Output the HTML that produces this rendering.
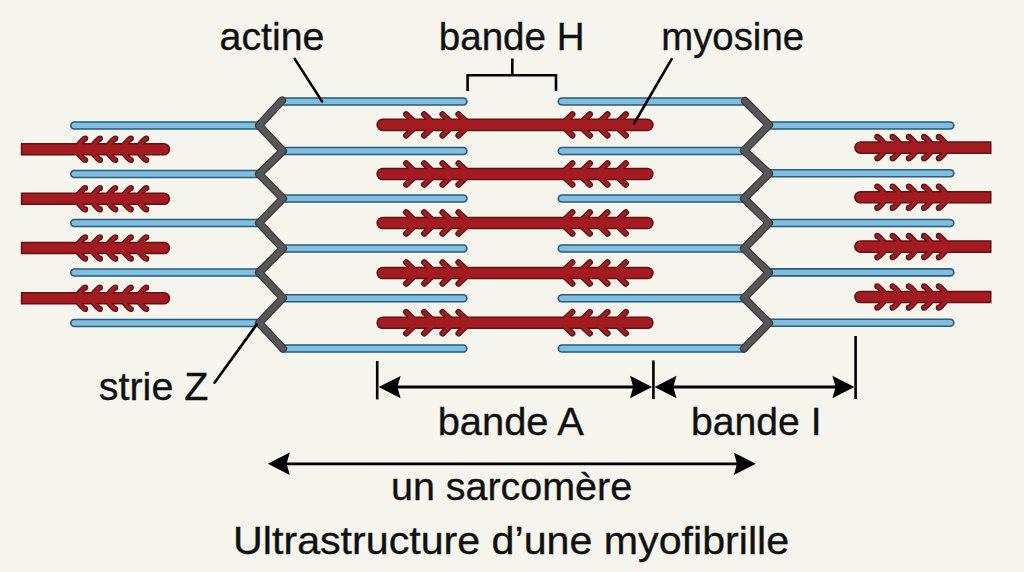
<!DOCTYPE html><html><head><meta charset="utf-8"><title>Ultrastructure d’une myofibrille</title><style>html,body{margin:0;padding:0;background:#f5f5ee;overflow:hidden}svg{display:block}</style></head><body><svg width="1024" height="572" viewBox="0 0 1024 572">
<style>.ao{stroke:#2a5a75;stroke-width:8.6;stroke-linecap:round;fill:none}.ai{stroke:#7ebee1;stroke-width:5.3999999999999995;stroke-linecap:round;fill:none}.ho{stroke:#601211;stroke-width:6.2;stroke-linecap:round;fill:none}.hi{stroke:#a41b22;stroke-width:3.5;stroke-linecap:round;fill:none}.zo{stroke:#3a3a3a;stroke-width:8.2;stroke-linecap:round;stroke-linejoin:round;fill:none}.zi{stroke:#575757;stroke-width:5.8;stroke-linecap:round;stroke-linejoin:round;fill:none}.k{stroke:#000;stroke-width:2.6;fill:none}text{font-family:"Liberation Sans",sans-serif;fill:#111111;stroke:#111111;stroke-width:0.35px}</style>
<rect width="1024" height="572" fill="#f5f5ee"/>
<line x1="74.3" y1="125.5" x2="259.0" y2="125.5" class="ao"/>
<line x1="74.3" y1="174" x2="259.0" y2="174" class="ao"/>
<line x1="74.3" y1="223" x2="259.0" y2="223" class="ao"/>
<line x1="74.3" y1="272.5" x2="259.0" y2="272.5" class="ao"/>
<line x1="74.3" y1="323" x2="259.0" y2="323" class="ao"/>
<line x1="283.0" y1="101.5" x2="463.4" y2="101.5" class="ao"/>
<line x1="561.8" y1="101.5" x2="744.0" y2="101.5" class="ao"/>
<line x1="283.0" y1="151" x2="463.4" y2="151" class="ao"/>
<line x1="561.8" y1="151" x2="744.0" y2="151" class="ao"/>
<line x1="283.0" y1="198.5" x2="463.4" y2="198.5" class="ao"/>
<line x1="561.8" y1="198.5" x2="744.0" y2="198.5" class="ao"/>
<line x1="283.0" y1="248.5" x2="463.4" y2="248.5" class="ao"/>
<line x1="561.8" y1="248.5" x2="744.0" y2="248.5" class="ao"/>
<line x1="283.0" y1="298.3" x2="463.4" y2="298.3" class="ao"/>
<line x1="561.8" y1="298.3" x2="744.0" y2="298.3" class="ao"/>
<line x1="283.0" y1="348.5" x2="463.4" y2="348.5" class="ao"/>
<line x1="561.8" y1="348.5" x2="744.0" y2="348.5" class="ao"/>
<line x1="771.0" y1="125.5" x2="950.3" y2="125.5" class="ao"/>
<line x1="771.0" y1="173.2" x2="950.3" y2="173.2" class="ao"/>
<line x1="771.0" y1="223" x2="950.3" y2="223" class="ao"/>
<line x1="771.0" y1="272.4" x2="950.3" y2="272.4" class="ao"/>
<line x1="771.0" y1="322.8" x2="950.3" y2="322.8" class="ao"/>
<line x1="74.3" y1="125.5" x2="259.0" y2="125.5" class="ai"/>
<line x1="74.3" y1="174" x2="259.0" y2="174" class="ai"/>
<line x1="74.3" y1="223" x2="259.0" y2="223" class="ai"/>
<line x1="74.3" y1="272.5" x2="259.0" y2="272.5" class="ai"/>
<line x1="74.3" y1="323" x2="259.0" y2="323" class="ai"/>
<line x1="283.0" y1="101.5" x2="463.4" y2="101.5" class="ai"/>
<line x1="561.8" y1="101.5" x2="744.0" y2="101.5" class="ai"/>
<line x1="283.0" y1="151" x2="463.4" y2="151" class="ai"/>
<line x1="561.8" y1="151" x2="744.0" y2="151" class="ai"/>
<line x1="283.0" y1="198.5" x2="463.4" y2="198.5" class="ai"/>
<line x1="561.8" y1="198.5" x2="744.0" y2="198.5" class="ai"/>
<line x1="283.0" y1="248.5" x2="463.4" y2="248.5" class="ai"/>
<line x1="561.8" y1="248.5" x2="744.0" y2="248.5" class="ai"/>
<line x1="283.0" y1="298.3" x2="463.4" y2="298.3" class="ai"/>
<line x1="561.8" y1="298.3" x2="744.0" y2="298.3" class="ai"/>
<line x1="283.0" y1="348.5" x2="463.4" y2="348.5" class="ai"/>
<line x1="561.8" y1="348.5" x2="744.0" y2="348.5" class="ai"/>
<line x1="771.0" y1="125.5" x2="950.3" y2="125.5" class="ai"/>
<line x1="771.0" y1="173.2" x2="950.3" y2="173.2" class="ai"/>
<line x1="771.0" y1="223" x2="950.3" y2="223" class="ai"/>
<line x1="771.0" y1="272.4" x2="950.3" y2="272.4" class="ai"/>
<line x1="771.0" y1="322.8" x2="950.3" y2="322.8" class="ai"/>
<path d="M20.80,143.00 L163.90,143.00 A6.30,6.30 0 0 1 163.90,155.60 L20.80,155.60 L20.80,143.00 Z" fill="#601211"/>
<path d="M77.10,147.10 Q83.34,138.60 85.10,138.60" class="ho"/>
<path d="M77.10,151.50 Q83.34,160.00 85.10,160.00" class="ho"/>
<path d="M91.90,147.10 Q98.14,138.60 99.90,138.60" class="ho"/>
<path d="M91.90,151.50 Q98.14,160.00 99.90,160.00" class="ho"/>
<path d="M107.20,147.10 Q113.44,138.60 115.20,138.60" class="ho"/>
<path d="M107.20,151.50 Q113.44,160.00 115.20,160.00" class="ho"/>
<path d="M122.80,147.10 Q129.04,138.60 130.80,138.60" class="ho"/>
<path d="M122.80,151.50 Q129.04,160.00 130.80,160.00" class="ho"/>
<path d="M138.20,147.10 Q144.44,138.60 146.20,138.60" class="ho"/>
<path d="M138.20,151.50 Q144.44,160.00 146.20,160.00" class="ho"/>
<path d="M20.80,192.40 L163.90,192.40 A6.30,6.30 0 0 1 163.90,205.00 L20.80,205.00 L20.80,192.40 Z" fill="#601211"/>
<path d="M77.10,196.50 Q83.34,188.00 85.10,188.00" class="ho"/>
<path d="M77.10,200.90 Q83.34,209.40 85.10,209.40" class="ho"/>
<path d="M91.90,196.50 Q98.14,188.00 99.90,188.00" class="ho"/>
<path d="M91.90,200.90 Q98.14,209.40 99.90,209.40" class="ho"/>
<path d="M107.20,196.50 Q113.44,188.00 115.20,188.00" class="ho"/>
<path d="M107.20,200.90 Q113.44,209.40 115.20,209.40" class="ho"/>
<path d="M122.80,196.50 Q129.04,188.00 130.80,188.00" class="ho"/>
<path d="M122.80,200.90 Q129.04,209.40 130.80,209.40" class="ho"/>
<path d="M138.20,196.50 Q144.44,188.00 146.20,188.00" class="ho"/>
<path d="M138.20,200.90 Q144.44,209.40 146.20,209.40" class="ho"/>
<path d="M20.80,241.70 L163.90,241.70 A6.30,6.30 0 0 1 163.90,254.30 L20.80,254.30 L20.80,241.70 Z" fill="#601211"/>
<path d="M77.10,245.80 Q83.34,237.30 85.10,237.30" class="ho"/>
<path d="M77.10,250.20 Q83.34,258.70 85.10,258.70" class="ho"/>
<path d="M91.90,245.80 Q98.14,237.30 99.90,237.30" class="ho"/>
<path d="M91.90,250.20 Q98.14,258.70 99.90,258.70" class="ho"/>
<path d="M107.20,245.80 Q113.44,237.30 115.20,237.30" class="ho"/>
<path d="M107.20,250.20 Q113.44,258.70 115.20,258.70" class="ho"/>
<path d="M122.80,245.80 Q129.04,237.30 130.80,237.30" class="ho"/>
<path d="M122.80,250.20 Q129.04,258.70 130.80,258.70" class="ho"/>
<path d="M138.20,245.80 Q144.44,237.30 146.20,237.30" class="ho"/>
<path d="M138.20,250.20 Q144.44,258.70 146.20,258.70" class="ho"/>
<path d="M20.80,292.00 L163.90,292.00 A6.30,6.30 0 0 1 163.90,304.60 L20.80,304.60 L20.80,292.00 Z" fill="#601211"/>
<path d="M77.10,296.10 Q83.34,287.60 85.10,287.60" class="ho"/>
<path d="M77.10,300.50 Q83.34,309.00 85.10,309.00" class="ho"/>
<path d="M91.90,296.10 Q98.14,287.60 99.90,287.60" class="ho"/>
<path d="M91.90,300.50 Q98.14,309.00 99.90,309.00" class="ho"/>
<path d="M107.20,296.10 Q113.44,287.60 115.20,287.60" class="ho"/>
<path d="M107.20,300.50 Q113.44,309.00 115.20,309.00" class="ho"/>
<path d="M122.80,296.10 Q129.04,287.60 130.80,287.60" class="ho"/>
<path d="M122.80,300.50 Q129.04,309.00 130.80,309.00" class="ho"/>
<path d="M138.20,296.10 Q144.44,287.60 146.20,287.60" class="ho"/>
<path d="M138.20,300.50 Q144.44,309.00 146.20,309.00" class="ho"/>
<path d="M382.70,118.60 L647.40,118.60 A6.30,6.30 0 0 1 647.40,131.20 L382.70,131.20 A6.30,6.30 0 0 1 382.70,118.60 Z" fill="#601211"/>
<path d="M414.90,122.70 Q406.10,114.20 406.10,114.20" class="ho"/>
<path d="M414.90,127.10 Q406.10,135.60 406.10,135.60" class="ho"/>
<path d="M432.90,122.70 Q424.10,114.20 424.10,114.20" class="ho"/>
<path d="M432.90,127.10 Q424.10,135.60 424.10,135.60" class="ho"/>
<path d="M451.30,122.70 Q442.50,114.20 442.50,114.20" class="ho"/>
<path d="M451.30,127.10 Q442.50,135.60 442.50,135.60" class="ho"/>
<path d="M467.30,122.70 Q458.50,114.20 458.50,114.20" class="ho"/>
<path d="M467.30,127.10 Q458.50,135.60 458.50,135.60" class="ho"/>
<path d="M563.60,122.70 Q572.40,114.20 572.40,114.20" class="ho"/>
<path d="M563.60,127.10 Q572.40,135.60 572.40,135.60" class="ho"/>
<path d="M581.10,122.70 Q589.90,114.20 589.90,114.20" class="ho"/>
<path d="M581.10,127.10 Q589.90,135.60 589.90,135.60" class="ho"/>
<path d="M598.70,122.70 Q607.50,114.20 607.50,114.20" class="ho"/>
<path d="M598.70,127.10 Q607.50,135.60 607.50,135.60" class="ho"/>
<path d="M617.10,122.70 Q625.90,114.20 625.90,114.20" class="ho"/>
<path d="M617.10,127.10 Q625.90,135.60 625.90,135.60" class="ho"/>
<path d="M382.70,167.70 L647.40,167.70 A6.30,6.30 0 0 1 647.40,180.30 L382.70,180.30 A6.30,6.30 0 0 1 382.70,167.70 Z" fill="#601211"/>
<path d="M414.90,171.80 Q406.10,163.30 406.10,163.30" class="ho"/>
<path d="M414.90,176.20 Q406.10,184.70 406.10,184.70" class="ho"/>
<path d="M432.90,171.80 Q424.10,163.30 424.10,163.30" class="ho"/>
<path d="M432.90,176.20 Q424.10,184.70 424.10,184.70" class="ho"/>
<path d="M451.30,171.80 Q442.50,163.30 442.50,163.30" class="ho"/>
<path d="M451.30,176.20 Q442.50,184.70 442.50,184.70" class="ho"/>
<path d="M467.30,171.80 Q458.50,163.30 458.50,163.30" class="ho"/>
<path d="M467.30,176.20 Q458.50,184.70 458.50,184.70" class="ho"/>
<path d="M563.60,171.80 Q572.40,163.30 572.40,163.30" class="ho"/>
<path d="M563.60,176.20 Q572.40,184.70 572.40,184.70" class="ho"/>
<path d="M581.10,171.80 Q589.90,163.30 589.90,163.30" class="ho"/>
<path d="M581.10,176.20 Q589.90,184.70 589.90,184.70" class="ho"/>
<path d="M598.70,171.80 Q607.50,163.30 607.50,163.30" class="ho"/>
<path d="M598.70,176.20 Q607.50,184.70 607.50,184.70" class="ho"/>
<path d="M617.10,171.80 Q625.90,163.30 625.90,163.30" class="ho"/>
<path d="M617.10,176.20 Q625.90,184.70 625.90,184.70" class="ho"/>
<path d="M382.70,216.70 L647.40,216.70 A6.30,6.30 0 0 1 647.40,229.30 L382.70,229.30 A6.30,6.30 0 0 1 382.70,216.70 Z" fill="#601211"/>
<path d="M414.90,220.80 Q406.10,212.30 406.10,212.30" class="ho"/>
<path d="M414.90,225.20 Q406.10,233.70 406.10,233.70" class="ho"/>
<path d="M432.90,220.80 Q424.10,212.30 424.10,212.30" class="ho"/>
<path d="M432.90,225.20 Q424.10,233.70 424.10,233.70" class="ho"/>
<path d="M451.30,220.80 Q442.50,212.30 442.50,212.30" class="ho"/>
<path d="M451.30,225.20 Q442.50,233.70 442.50,233.70" class="ho"/>
<path d="M467.30,220.80 Q458.50,212.30 458.50,212.30" class="ho"/>
<path d="M467.30,225.20 Q458.50,233.70 458.50,233.70" class="ho"/>
<path d="M563.60,220.80 Q572.40,212.30 572.40,212.30" class="ho"/>
<path d="M563.60,225.20 Q572.40,233.70 572.40,233.70" class="ho"/>
<path d="M581.10,220.80 Q589.90,212.30 589.90,212.30" class="ho"/>
<path d="M581.10,225.20 Q589.90,233.70 589.90,233.70" class="ho"/>
<path d="M598.70,220.80 Q607.50,212.30 607.50,212.30" class="ho"/>
<path d="M598.70,225.20 Q607.50,233.70 607.50,233.70" class="ho"/>
<path d="M617.10,220.80 Q625.90,212.30 625.90,212.30" class="ho"/>
<path d="M617.10,225.20 Q625.90,233.70 625.90,233.70" class="ho"/>
<path d="M382.70,266.70 L647.40,266.70 A6.30,6.30 0 0 1 647.40,279.30 L382.70,279.30 A6.30,6.30 0 0 1 382.70,266.70 Z" fill="#601211"/>
<path d="M414.90,270.80 Q406.10,262.30 406.10,262.30" class="ho"/>
<path d="M414.90,275.20 Q406.10,283.70 406.10,283.70" class="ho"/>
<path d="M432.90,270.80 Q424.10,262.30 424.10,262.30" class="ho"/>
<path d="M432.90,275.20 Q424.10,283.70 424.10,283.70" class="ho"/>
<path d="M451.30,270.80 Q442.50,262.30 442.50,262.30" class="ho"/>
<path d="M451.30,275.20 Q442.50,283.70 442.50,283.70" class="ho"/>
<path d="M467.30,270.80 Q458.50,262.30 458.50,262.30" class="ho"/>
<path d="M467.30,275.20 Q458.50,283.70 458.50,283.70" class="ho"/>
<path d="M563.60,270.80 Q572.40,262.30 572.40,262.30" class="ho"/>
<path d="M563.60,275.20 Q572.40,283.70 572.40,283.70" class="ho"/>
<path d="M581.10,270.80 Q589.90,262.30 589.90,262.30" class="ho"/>
<path d="M581.10,275.20 Q589.90,283.70 589.90,283.70" class="ho"/>
<path d="M598.70,270.80 Q607.50,262.30 607.50,262.30" class="ho"/>
<path d="M598.70,275.20 Q607.50,283.70 607.50,283.70" class="ho"/>
<path d="M617.10,270.80 Q625.90,262.30 625.90,262.30" class="ho"/>
<path d="M617.10,275.20 Q625.90,283.70 625.90,283.70" class="ho"/>
<path d="M382.70,316.40 L647.40,316.40 A6.30,6.30 0 0 1 647.40,329.00 L382.70,329.00 A6.30,6.30 0 0 1 382.70,316.40 Z" fill="#601211"/>
<path d="M414.90,320.50 Q406.10,312.00 406.10,312.00" class="ho"/>
<path d="M414.90,324.90 Q406.10,333.40 406.10,333.40" class="ho"/>
<path d="M432.90,320.50 Q424.10,312.00 424.10,312.00" class="ho"/>
<path d="M432.90,324.90 Q424.10,333.40 424.10,333.40" class="ho"/>
<path d="M451.30,320.50 Q442.50,312.00 442.50,312.00" class="ho"/>
<path d="M451.30,324.90 Q442.50,333.40 442.50,333.40" class="ho"/>
<path d="M467.30,320.50 Q458.50,312.00 458.50,312.00" class="ho"/>
<path d="M467.30,324.90 Q458.50,333.40 458.50,333.40" class="ho"/>
<path d="M563.60,320.50 Q572.40,312.00 572.40,312.00" class="ho"/>
<path d="M563.60,324.90 Q572.40,333.40 572.40,333.40" class="ho"/>
<path d="M581.10,320.50 Q589.90,312.00 589.90,312.00" class="ho"/>
<path d="M581.10,324.90 Q589.90,333.40 589.90,333.40" class="ho"/>
<path d="M598.70,320.50 Q607.50,312.00 607.50,312.00" class="ho"/>
<path d="M598.70,324.90 Q607.50,333.40 607.50,333.40" class="ho"/>
<path d="M617.10,320.50 Q625.90,312.00 625.90,312.00" class="ho"/>
<path d="M617.10,324.90 Q625.90,333.40 625.90,333.40" class="ho"/>
<path d="M860.40,141.30 L991.50,141.30 L991.50,153.90 L860.40,153.90 A6.30,6.30 0 0 1 860.40,141.30 Z" fill="#601211"/>
<path d="M885.30,145.40 Q879.06,136.90 877.30,136.90" class="ho"/>
<path d="M885.30,149.80 Q879.06,158.30 877.30,158.30" class="ho"/>
<path d="M900.60,145.40 Q894.36,136.90 892.60,136.90" class="ho"/>
<path d="M900.60,149.80 Q894.36,158.30 892.60,158.30" class="ho"/>
<path d="M916.80,145.40 Q910.56,136.90 908.80,136.90" class="ho"/>
<path d="M916.80,149.80 Q910.56,158.30 908.80,158.30" class="ho"/>
<path d="M932.10,145.40 Q925.86,136.90 924.10,136.90" class="ho"/>
<path d="M932.10,149.80 Q925.86,158.30 924.10,158.30" class="ho"/>
<path d="M946.80,145.40 Q940.56,136.90 938.80,136.90" class="ho"/>
<path d="M946.80,149.80 Q940.56,158.30 938.80,158.30" class="ho"/>
<path d="M860.40,190.90 L991.50,190.90 L991.50,203.50 L860.40,203.50 A6.30,6.30 0 0 1 860.40,190.90 Z" fill="#601211"/>
<path d="M885.30,195.00 Q879.06,186.50 877.30,186.50" class="ho"/>
<path d="M885.30,199.40 Q879.06,207.90 877.30,207.90" class="ho"/>
<path d="M900.60,195.00 Q894.36,186.50 892.60,186.50" class="ho"/>
<path d="M900.60,199.40 Q894.36,207.90 892.60,207.90" class="ho"/>
<path d="M916.80,195.00 Q910.56,186.50 908.80,186.50" class="ho"/>
<path d="M916.80,199.40 Q910.56,207.90 908.80,207.90" class="ho"/>
<path d="M932.10,195.00 Q925.86,186.50 924.10,186.50" class="ho"/>
<path d="M932.10,199.40 Q925.86,207.90 924.10,207.90" class="ho"/>
<path d="M946.80,195.00 Q940.56,186.50 938.80,186.50" class="ho"/>
<path d="M946.80,199.40 Q940.56,207.90 938.80,207.90" class="ho"/>
<path d="M860.40,240.30 L991.50,240.30 L991.50,252.90 L860.40,252.90 A6.30,6.30 0 0 1 860.40,240.30 Z" fill="#601211"/>
<path d="M885.30,244.40 Q879.06,235.90 877.30,235.90" class="ho"/>
<path d="M885.30,248.80 Q879.06,257.30 877.30,257.30" class="ho"/>
<path d="M900.60,244.40 Q894.36,235.90 892.60,235.90" class="ho"/>
<path d="M900.60,248.80 Q894.36,257.30 892.60,257.30" class="ho"/>
<path d="M916.80,244.40 Q910.56,235.90 908.80,235.90" class="ho"/>
<path d="M916.80,248.80 Q910.56,257.30 908.80,257.30" class="ho"/>
<path d="M932.10,244.40 Q925.86,235.90 924.10,235.90" class="ho"/>
<path d="M932.10,248.80 Q925.86,257.30 924.10,257.30" class="ho"/>
<path d="M946.80,244.40 Q940.56,235.90 938.80,235.90" class="ho"/>
<path d="M946.80,248.80 Q940.56,257.30 938.80,257.30" class="ho"/>
<path d="M860.40,290.70 L991.50,290.70 L991.50,303.30 L860.40,303.30 A6.30,6.30 0 0 1 860.40,290.70 Z" fill="#601211"/>
<path d="M885.30,294.80 Q879.06,286.30 877.30,286.30" class="ho"/>
<path d="M885.30,299.20 Q879.06,307.70 877.30,307.70" class="ho"/>
<path d="M900.60,294.80 Q894.36,286.30 892.60,286.30" class="ho"/>
<path d="M900.60,299.20 Q894.36,307.70 892.60,307.70" class="ho"/>
<path d="M916.80,294.80 Q910.56,286.30 908.80,286.30" class="ho"/>
<path d="M916.80,299.20 Q910.56,307.70 908.80,307.70" class="ho"/>
<path d="M932.10,294.80 Q925.86,286.30 924.10,286.30" class="ho"/>
<path d="M932.10,299.20 Q925.86,307.70 924.10,307.70" class="ho"/>
<path d="M946.80,294.80 Q940.56,286.30 938.80,286.30" class="ho"/>
<path d="M946.80,299.20 Q940.56,307.70 938.80,307.70" class="ho"/>
<path d="M22.30,144.50 L163.90,144.50 A4.80,4.80 0 0 1 163.90,154.10 L22.30,154.10 L22.30,144.50 Z" fill="#a41b22"/>
<path d="M77.10,147.10 Q83.34,138.60 85.10,138.60" class="hi"/>
<path d="M77.10,151.50 Q83.34,160.00 85.10,160.00" class="hi"/>
<path d="M91.90,147.10 Q98.14,138.60 99.90,138.60" class="hi"/>
<path d="M91.90,151.50 Q98.14,160.00 99.90,160.00" class="hi"/>
<path d="M107.20,147.10 Q113.44,138.60 115.20,138.60" class="hi"/>
<path d="M107.20,151.50 Q113.44,160.00 115.20,160.00" class="hi"/>
<path d="M122.80,147.10 Q129.04,138.60 130.80,138.60" class="hi"/>
<path d="M122.80,151.50 Q129.04,160.00 130.80,160.00" class="hi"/>
<path d="M138.20,147.10 Q144.44,138.60 146.20,138.60" class="hi"/>
<path d="M138.20,151.50 Q144.44,160.00 146.20,160.00" class="hi"/>
<path d="M22.30,193.90 L163.90,193.90 A4.80,4.80 0 0 1 163.90,203.50 L22.30,203.50 L22.30,193.90 Z" fill="#a41b22"/>
<path d="M77.10,196.50 Q83.34,188.00 85.10,188.00" class="hi"/>
<path d="M77.10,200.90 Q83.34,209.40 85.10,209.40" class="hi"/>
<path d="M91.90,196.50 Q98.14,188.00 99.90,188.00" class="hi"/>
<path d="M91.90,200.90 Q98.14,209.40 99.90,209.40" class="hi"/>
<path d="M107.20,196.50 Q113.44,188.00 115.20,188.00" class="hi"/>
<path d="M107.20,200.90 Q113.44,209.40 115.20,209.40" class="hi"/>
<path d="M122.80,196.50 Q129.04,188.00 130.80,188.00" class="hi"/>
<path d="M122.80,200.90 Q129.04,209.40 130.80,209.40" class="hi"/>
<path d="M138.20,196.50 Q144.44,188.00 146.20,188.00" class="hi"/>
<path d="M138.20,200.90 Q144.44,209.40 146.20,209.40" class="hi"/>
<path d="M22.30,243.20 L163.90,243.20 A4.80,4.80 0 0 1 163.90,252.80 L22.30,252.80 L22.30,243.20 Z" fill="#a41b22"/>
<path d="M77.10,245.80 Q83.34,237.30 85.10,237.30" class="hi"/>
<path d="M77.10,250.20 Q83.34,258.70 85.10,258.70" class="hi"/>
<path d="M91.90,245.80 Q98.14,237.30 99.90,237.30" class="hi"/>
<path d="M91.90,250.20 Q98.14,258.70 99.90,258.70" class="hi"/>
<path d="M107.20,245.80 Q113.44,237.30 115.20,237.30" class="hi"/>
<path d="M107.20,250.20 Q113.44,258.70 115.20,258.70" class="hi"/>
<path d="M122.80,245.80 Q129.04,237.30 130.80,237.30" class="hi"/>
<path d="M122.80,250.20 Q129.04,258.70 130.80,258.70" class="hi"/>
<path d="M138.20,245.80 Q144.44,237.30 146.20,237.30" class="hi"/>
<path d="M138.20,250.20 Q144.44,258.70 146.20,258.70" class="hi"/>
<path d="M22.30,293.50 L163.90,293.50 A4.80,4.80 0 0 1 163.90,303.10 L22.30,303.10 L22.30,293.50 Z" fill="#a41b22"/>
<path d="M77.10,296.10 Q83.34,287.60 85.10,287.60" class="hi"/>
<path d="M77.10,300.50 Q83.34,309.00 85.10,309.00" class="hi"/>
<path d="M91.90,296.10 Q98.14,287.60 99.90,287.60" class="hi"/>
<path d="M91.90,300.50 Q98.14,309.00 99.90,309.00" class="hi"/>
<path d="M107.20,296.10 Q113.44,287.60 115.20,287.60" class="hi"/>
<path d="M107.20,300.50 Q113.44,309.00 115.20,309.00" class="hi"/>
<path d="M122.80,296.10 Q129.04,287.60 130.80,287.60" class="hi"/>
<path d="M122.80,300.50 Q129.04,309.00 130.80,309.00" class="hi"/>
<path d="M138.20,296.10 Q144.44,287.60 146.20,287.60" class="hi"/>
<path d="M138.20,300.50 Q144.44,309.00 146.20,309.00" class="hi"/>
<path d="M382.70,120.10 L647.40,120.10 A4.80,4.80 0 0 1 647.40,129.70 L382.70,129.70 A4.80,4.80 0 0 1 382.70,120.10 Z" fill="#a41b22"/>
<path d="M414.90,122.70 Q406.10,114.20 406.10,114.20" class="hi"/>
<path d="M414.90,127.10 Q406.10,135.60 406.10,135.60" class="hi"/>
<path d="M432.90,122.70 Q424.10,114.20 424.10,114.20" class="hi"/>
<path d="M432.90,127.10 Q424.10,135.60 424.10,135.60" class="hi"/>
<path d="M451.30,122.70 Q442.50,114.20 442.50,114.20" class="hi"/>
<path d="M451.30,127.10 Q442.50,135.60 442.50,135.60" class="hi"/>
<path d="M467.30,122.70 Q458.50,114.20 458.50,114.20" class="hi"/>
<path d="M467.30,127.10 Q458.50,135.60 458.50,135.60" class="hi"/>
<path d="M563.60,122.70 Q572.40,114.20 572.40,114.20" class="hi"/>
<path d="M563.60,127.10 Q572.40,135.60 572.40,135.60" class="hi"/>
<path d="M581.10,122.70 Q589.90,114.20 589.90,114.20" class="hi"/>
<path d="M581.10,127.10 Q589.90,135.60 589.90,135.60" class="hi"/>
<path d="M598.70,122.70 Q607.50,114.20 607.50,114.20" class="hi"/>
<path d="M598.70,127.10 Q607.50,135.60 607.50,135.60" class="hi"/>
<path d="M617.10,122.70 Q625.90,114.20 625.90,114.20" class="hi"/>
<path d="M617.10,127.10 Q625.90,135.60 625.90,135.60" class="hi"/>
<path d="M382.70,169.20 L647.40,169.20 A4.80,4.80 0 0 1 647.40,178.80 L382.70,178.80 A4.80,4.80 0 0 1 382.70,169.20 Z" fill="#a41b22"/>
<path d="M414.90,171.80 Q406.10,163.30 406.10,163.30" class="hi"/>
<path d="M414.90,176.20 Q406.10,184.70 406.10,184.70" class="hi"/>
<path d="M432.90,171.80 Q424.10,163.30 424.10,163.30" class="hi"/>
<path d="M432.90,176.20 Q424.10,184.70 424.10,184.70" class="hi"/>
<path d="M451.30,171.80 Q442.50,163.30 442.50,163.30" class="hi"/>
<path d="M451.30,176.20 Q442.50,184.70 442.50,184.70" class="hi"/>
<path d="M467.30,171.80 Q458.50,163.30 458.50,163.30" class="hi"/>
<path d="M467.30,176.20 Q458.50,184.70 458.50,184.70" class="hi"/>
<path d="M563.60,171.80 Q572.40,163.30 572.40,163.30" class="hi"/>
<path d="M563.60,176.20 Q572.40,184.70 572.40,184.70" class="hi"/>
<path d="M581.10,171.80 Q589.90,163.30 589.90,163.30" class="hi"/>
<path d="M581.10,176.20 Q589.90,184.70 589.90,184.70" class="hi"/>
<path d="M598.70,171.80 Q607.50,163.30 607.50,163.30" class="hi"/>
<path d="M598.70,176.20 Q607.50,184.70 607.50,184.70" class="hi"/>
<path d="M617.10,171.80 Q625.90,163.30 625.90,163.30" class="hi"/>
<path d="M617.10,176.20 Q625.90,184.70 625.90,184.70" class="hi"/>
<path d="M382.70,218.20 L647.40,218.20 A4.80,4.80 0 0 1 647.40,227.80 L382.70,227.80 A4.80,4.80 0 0 1 382.70,218.20 Z" fill="#a41b22"/>
<path d="M414.90,220.80 Q406.10,212.30 406.10,212.30" class="hi"/>
<path d="M414.90,225.20 Q406.10,233.70 406.10,233.70" class="hi"/>
<path d="M432.90,220.80 Q424.10,212.30 424.10,212.30" class="hi"/>
<path d="M432.90,225.20 Q424.10,233.70 424.10,233.70" class="hi"/>
<path d="M451.30,220.80 Q442.50,212.30 442.50,212.30" class="hi"/>
<path d="M451.30,225.20 Q442.50,233.70 442.50,233.70" class="hi"/>
<path d="M467.30,220.80 Q458.50,212.30 458.50,212.30" class="hi"/>
<path d="M467.30,225.20 Q458.50,233.70 458.50,233.70" class="hi"/>
<path d="M563.60,220.80 Q572.40,212.30 572.40,212.30" class="hi"/>
<path d="M563.60,225.20 Q572.40,233.70 572.40,233.70" class="hi"/>
<path d="M581.10,220.80 Q589.90,212.30 589.90,212.30" class="hi"/>
<path d="M581.10,225.20 Q589.90,233.70 589.90,233.70" class="hi"/>
<path d="M598.70,220.80 Q607.50,212.30 607.50,212.30" class="hi"/>
<path d="M598.70,225.20 Q607.50,233.70 607.50,233.70" class="hi"/>
<path d="M617.10,220.80 Q625.90,212.30 625.90,212.30" class="hi"/>
<path d="M617.10,225.20 Q625.90,233.70 625.90,233.70" class="hi"/>
<path d="M382.70,268.20 L647.40,268.20 A4.80,4.80 0 0 1 647.40,277.80 L382.70,277.80 A4.80,4.80 0 0 1 382.70,268.20 Z" fill="#a41b22"/>
<path d="M414.90,270.80 Q406.10,262.30 406.10,262.30" class="hi"/>
<path d="M414.90,275.20 Q406.10,283.70 406.10,283.70" class="hi"/>
<path d="M432.90,270.80 Q424.10,262.30 424.10,262.30" class="hi"/>
<path d="M432.90,275.20 Q424.10,283.70 424.10,283.70" class="hi"/>
<path d="M451.30,270.80 Q442.50,262.30 442.50,262.30" class="hi"/>
<path d="M451.30,275.20 Q442.50,283.70 442.50,283.70" class="hi"/>
<path d="M467.30,270.80 Q458.50,262.30 458.50,262.30" class="hi"/>
<path d="M467.30,275.20 Q458.50,283.70 458.50,283.70" class="hi"/>
<path d="M563.60,270.80 Q572.40,262.30 572.40,262.30" class="hi"/>
<path d="M563.60,275.20 Q572.40,283.70 572.40,283.70" class="hi"/>
<path d="M581.10,270.80 Q589.90,262.30 589.90,262.30" class="hi"/>
<path d="M581.10,275.20 Q589.90,283.70 589.90,283.70" class="hi"/>
<path d="M598.70,270.80 Q607.50,262.30 607.50,262.30" class="hi"/>
<path d="M598.70,275.20 Q607.50,283.70 607.50,283.70" class="hi"/>
<path d="M617.10,270.80 Q625.90,262.30 625.90,262.30" class="hi"/>
<path d="M617.10,275.20 Q625.90,283.70 625.90,283.70" class="hi"/>
<path d="M382.70,317.90 L647.40,317.90 A4.80,4.80 0 0 1 647.40,327.50 L382.70,327.50 A4.80,4.80 0 0 1 382.70,317.90 Z" fill="#a41b22"/>
<path d="M414.90,320.50 Q406.10,312.00 406.10,312.00" class="hi"/>
<path d="M414.90,324.90 Q406.10,333.40 406.10,333.40" class="hi"/>
<path d="M432.90,320.50 Q424.10,312.00 424.10,312.00" class="hi"/>
<path d="M432.90,324.90 Q424.10,333.40 424.10,333.40" class="hi"/>
<path d="M451.30,320.50 Q442.50,312.00 442.50,312.00" class="hi"/>
<path d="M451.30,324.90 Q442.50,333.40 442.50,333.40" class="hi"/>
<path d="M467.30,320.50 Q458.50,312.00 458.50,312.00" class="hi"/>
<path d="M467.30,324.90 Q458.50,333.40 458.50,333.40" class="hi"/>
<path d="M563.60,320.50 Q572.40,312.00 572.40,312.00" class="hi"/>
<path d="M563.60,324.90 Q572.40,333.40 572.40,333.40" class="hi"/>
<path d="M581.10,320.50 Q589.90,312.00 589.90,312.00" class="hi"/>
<path d="M581.10,324.90 Q589.90,333.40 589.90,333.40" class="hi"/>
<path d="M598.70,320.50 Q607.50,312.00 607.50,312.00" class="hi"/>
<path d="M598.70,324.90 Q607.50,333.40 607.50,333.40" class="hi"/>
<path d="M617.10,320.50 Q625.90,312.00 625.90,312.00" class="hi"/>
<path d="M617.10,324.90 Q625.90,333.40 625.90,333.40" class="hi"/>
<path d="M860.40,142.80 L990.00,142.80 L990.00,152.40 L860.40,152.40 A4.80,4.80 0 0 1 860.40,142.80 Z" fill="#a41b22"/>
<path d="M885.30,145.40 Q879.06,136.90 877.30,136.90" class="hi"/>
<path d="M885.30,149.80 Q879.06,158.30 877.30,158.30" class="hi"/>
<path d="M900.60,145.40 Q894.36,136.90 892.60,136.90" class="hi"/>
<path d="M900.60,149.80 Q894.36,158.30 892.60,158.30" class="hi"/>
<path d="M916.80,145.40 Q910.56,136.90 908.80,136.90" class="hi"/>
<path d="M916.80,149.80 Q910.56,158.30 908.80,158.30" class="hi"/>
<path d="M932.10,145.40 Q925.86,136.90 924.10,136.90" class="hi"/>
<path d="M932.10,149.80 Q925.86,158.30 924.10,158.30" class="hi"/>
<path d="M946.80,145.40 Q940.56,136.90 938.80,136.90" class="hi"/>
<path d="M946.80,149.80 Q940.56,158.30 938.80,158.30" class="hi"/>
<path d="M860.40,192.40 L990.00,192.40 L990.00,202.00 L860.40,202.00 A4.80,4.80 0 0 1 860.40,192.40 Z" fill="#a41b22"/>
<path d="M885.30,195.00 Q879.06,186.50 877.30,186.50" class="hi"/>
<path d="M885.30,199.40 Q879.06,207.90 877.30,207.90" class="hi"/>
<path d="M900.60,195.00 Q894.36,186.50 892.60,186.50" class="hi"/>
<path d="M900.60,199.40 Q894.36,207.90 892.60,207.90" class="hi"/>
<path d="M916.80,195.00 Q910.56,186.50 908.80,186.50" class="hi"/>
<path d="M916.80,199.40 Q910.56,207.90 908.80,207.90" class="hi"/>
<path d="M932.10,195.00 Q925.86,186.50 924.10,186.50" class="hi"/>
<path d="M932.10,199.40 Q925.86,207.90 924.10,207.90" class="hi"/>
<path d="M946.80,195.00 Q940.56,186.50 938.80,186.50" class="hi"/>
<path d="M946.80,199.40 Q940.56,207.90 938.80,207.90" class="hi"/>
<path d="M860.40,241.80 L990.00,241.80 L990.00,251.40 L860.40,251.40 A4.80,4.80 0 0 1 860.40,241.80 Z" fill="#a41b22"/>
<path d="M885.30,244.40 Q879.06,235.90 877.30,235.90" class="hi"/>
<path d="M885.30,248.80 Q879.06,257.30 877.30,257.30" class="hi"/>
<path d="M900.60,244.40 Q894.36,235.90 892.60,235.90" class="hi"/>
<path d="M900.60,248.80 Q894.36,257.30 892.60,257.30" class="hi"/>
<path d="M916.80,244.40 Q910.56,235.90 908.80,235.90" class="hi"/>
<path d="M916.80,248.80 Q910.56,257.30 908.80,257.30" class="hi"/>
<path d="M932.10,244.40 Q925.86,235.90 924.10,235.90" class="hi"/>
<path d="M932.10,248.80 Q925.86,257.30 924.10,257.30" class="hi"/>
<path d="M946.80,244.40 Q940.56,235.90 938.80,235.90" class="hi"/>
<path d="M946.80,248.80 Q940.56,257.30 938.80,257.30" class="hi"/>
<path d="M860.40,292.20 L990.00,292.20 L990.00,301.80 L860.40,301.80 A4.80,4.80 0 0 1 860.40,292.20 Z" fill="#a41b22"/>
<path d="M885.30,294.80 Q879.06,286.30 877.30,286.30" class="hi"/>
<path d="M885.30,299.20 Q879.06,307.70 877.30,307.70" class="hi"/>
<path d="M900.60,294.80 Q894.36,286.30 892.60,286.30" class="hi"/>
<path d="M900.60,299.20 Q894.36,307.70 892.60,307.70" class="hi"/>
<path d="M916.80,294.80 Q910.56,286.30 908.80,286.30" class="hi"/>
<path d="M916.80,299.20 Q910.56,307.70 908.80,307.70" class="hi"/>
<path d="M932.10,294.80 Q925.86,286.30 924.10,286.30" class="hi"/>
<path d="M932.10,299.20 Q925.86,307.70 924.10,307.70" class="hi"/>
<path d="M946.80,294.80 Q940.56,286.30 938.80,286.30" class="hi"/>
<path d="M946.80,299.20 Q940.56,307.70 938.80,307.70" class="hi"/>
<polyline points="282,100.5 259,125.5 283,151 259,174 283,198.5 259,223 283,248.5 259,272.5 283,298 259,323 283,348.5" class="zo"/><polyline points="282,100.5 259,125.5 283,151 259,174 283,198.5 259,223 283,248.5 259,272.5 283,298 259,323 283,348.5" class="zi"/>
<polyline points="745,101 769,125 744,150.5 769,173.5 744,198.5 769,223 744,248.5 769,272.5 744,298 769,323 744,348.5" class="zo"/><polyline points="745,101 769,125 744,150.5 769,173.5 744,198.5 769,223 744,248.5 769,272.5 744,298 769,323 744,348.5" class="zi"/>
<line x1="294.7" y1="58.9" x2="322" y2="101.4" class="k" stroke-linecap="round"/>
<line x1="671.6" y1="59.1" x2="634.1" y2="123.5" class="k" stroke-linecap="round"/>
<line x1="214.5" y1="382.7" x2="256.6" y2="324.6" class="k" stroke-linecap="round"/>
<path d="M467.6,91 V75.2 H556 V91 M512.3,58.5 V75.2" class="k"/>
<line x1="377.2" y1="361" x2="377.2" y2="399.4" class="k"/>
<line x1="653.4" y1="360.5" x2="653.4" y2="399.1" class="k"/>
<line x1="855.6" y1="336" x2="855.6" y2="399" class="k"/>
<line x1="385" y1="387" x2="645" y2="387" class="k" style="stroke-width:2.8"/>
<line x1="662" y1="387" x2="847" y2="387" class="k" style="stroke-width:2.8"/>
<path d="M378.6,387.1 L400.6,375.90000000000003 L397.40000000000003,387.1 L400.6,398.3 Z" fill="#000"/>
<path d="M652,387 L630,375.8 L633.2,387 L630,398.2 Z" fill="#000"/>
<path d="M654.5,387 L676.5,375.8 L673.3,387 L676.5,398.2 Z" fill="#000"/>
<path d="M854.4,387 L832.4,375.8 L835.6,387 L832.4,398.2 Z" fill="#000"/>
<line x1="275" y1="463.8" x2="748" y2="463.8" class="k" style="stroke-width:2.8"/>
<path d="M267.8,463.8 L289.8,452.6 L286.6,463.8 L289.8,475.0 Z" fill="#000"/>
<path d="M755.8,463.8 L733.8,452.6 L737.0,463.8 L733.8,475.0 Z" fill="#000"/>
<text x="219.53" y="50.2" font-size="38" textLength="104.95" lengthAdjust="spacingAndGlyphs">actine</text>
<text x="438.75" y="50.35" font-size="38" textLength="145.77" lengthAdjust="spacingAndGlyphs">bande H</text>
<text x="661.27" y="50.2" font-size="38" textLength="142.76" lengthAdjust="spacingAndGlyphs">myosine</text>
<text x="98.83" y="399.6" font-size="38" textLength="109.52" lengthAdjust="spacingAndGlyphs">strie Z</text>
<text x="437.67" y="434.9" font-size="38" textLength="146.24" lengthAdjust="spacingAndGlyphs">bande A</text>
<text x="691.12" y="435.0" font-size="38" textLength="130.42" lengthAdjust="spacingAndGlyphs">bande I</text>
<text x="390.97" y="500.3" font-size="38" textLength="241.15" lengthAdjust="spacingAndGlyphs">un sarcomère</text>
<text x="233.14" y="553.65" font-size="39" textLength="555.97" lengthAdjust="spacingAndGlyphs">Ultrastructure d’une myofibrille</text>
</svg></body></html>
